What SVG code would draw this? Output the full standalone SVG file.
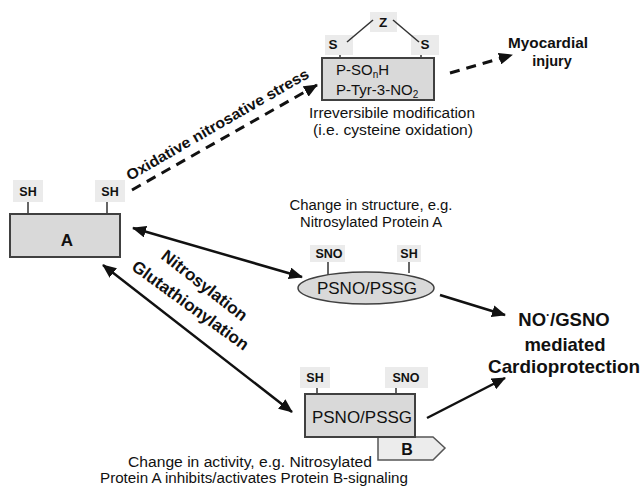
<svg xmlns="http://www.w3.org/2000/svg" width="642" height="491" viewBox="0 0 642 491">
<style>
.box{fill:#d9d9d9;stroke:#404040;stroke-width:2}
.lbl{fill:#ebebeb;stroke:none}
.stem{stroke:#333;stroke-width:1.5}
.t{font-family:"Liberation Sans",Arial,sans-serif;fill:#111}
.b{font-weight:bold}
.solid{stroke:#111;stroke-width:2.5;fill:none}
.dash{stroke:#111;stroke-width:3;fill:none;stroke-dasharray:10,7}
</style>
<defs>
<marker id="ah" markerUnits="userSpaceOnUse" markerWidth="14" markerHeight="12" refX="13" refY="6" orient="auto-start-reverse">
<path d="M0,0 L14,6 L0,12 z" fill="#111"/>
</marker>
</defs>
<rect width="642" height="491" fill="#fff"/>

<g id="nodeA">
<rect class="lbl" x="13" y="180" width="30" height="22"/>
<rect class="lbl" x="95" y="180" width="30" height="22"/>
<line class="stem" x1="28" y1="202" x2="28" y2="214"/>
<line class="stem" x1="107" y1="202" x2="107" y2="214"/>
<text class="t b" x="28" y="196" font-size="12.5" text-anchor="middle">SH</text>
<text class="t b" x="110" y="196" font-size="12.5" text-anchor="middle">SH</text>
<rect class="box" x="10" y="214" width="110" height="43"/>
<text class="t b" x="67" y="246" font-size="17" text-anchor="middle">A</text>
</g>

<g id="nodeOxidized">
<rect class="lbl" x="370" y="12" width="27" height="20"/>
<rect class="lbl" x="325" y="35" width="28" height="20"/>
<rect class="lbl" x="411" y="35" width="28" height="20"/>
<line class="stem" x1="347" y1="42" x2="373" y2="20"/>
<line class="stem" x1="393" y1="20" x2="419" y2="42"/>
<line class="stem" x1="340" y1="55" x2="340" y2="58"/>
<line class="stem" x1="421" y1="55" x2="421" y2="58"/>
<text class="t b" x="383" y="27" font-size="13.5" text-anchor="middle">Z</text>
<text class="t b" x="333" y="49" font-size="13.5" text-anchor="middle">S</text>
<text class="t b" x="425" y="49" font-size="13.5" text-anchor="middle">S</text>
<rect class="box" x="322" y="58" width="112" height="42"/>
<text class="t" x="336" y="75" font-size="15">P-SO<tspan font-size="10" dy="3">n</tspan><tspan dy="-3">H</tspan></text>
<text class="t" x="336" y="95" font-size="15">P-Tyr-3-NO<tspan font-size="10" dy="3">2</tspan></text>
<text class="t" x="392" y="118" font-size="14" text-anchor="middle" textLength="166" lengthAdjust="spacingAndGlyphs">Irreversibile modification</text>
<text class="t" x="393" y="135" font-size="14" text-anchor="middle" textLength="160" lengthAdjust="spacingAndGlyphs">(i.e. cysteine oxidation)</text>
</g>

<g id="nodeInjury">
<text class="t b" x="548" y="48" font-size="14.5" text-anchor="middle" textLength="80" lengthAdjust="spacingAndGlyphs">Myocardial</text>
<text class="t b" x="552" y="66" font-size="14.5" text-anchor="middle">injury</text>
</g>

<g id="nodeStructure">
<text class="t" x="371" y="210" font-size="14" text-anchor="middle" textLength="163" lengthAdjust="spacingAndGlyphs">Change in structure, e.g.</text>
<text class="t" x="371" y="227" font-size="14" text-anchor="middle" textLength="142" lengthAdjust="spacingAndGlyphs">Nitrosylated Protein A</text>
<rect class="lbl" x="310" y="245" width="35" height="17"/>
<rect class="lbl" x="397" y="245" width="24" height="17"/>
<line class="stem" x1="328" y1="262" x2="328" y2="275"/>
<line class="stem" x1="409" y1="262" x2="409" y2="273"/>
<text class="t b" x="329" y="258" font-size="12.5" text-anchor="middle">SNO</text>
<text class="t b" x="409" y="258" font-size="12.5" text-anchor="middle">SH</text>
<ellipse cx="366" cy="288" rx="68" ry="16" fill="#d9d9d9" stroke="#404040" stroke-width="1.5"/>
<text class="t" x="367" y="294" font-size="17" text-anchor="middle">PSNO/PSSG</text>
</g>

<g id="nodeActivity">
<rect class="lbl" x="300" y="367" width="30" height="21"/>
<rect class="lbl" x="385" y="367" width="43" height="21"/>
<line class="stem" x1="317" y1="388" x2="317" y2="394"/>
<line class="stem" x1="396" y1="388" x2="396" y2="394"/>
<text class="t b" x="315" y="382" font-size="12.5" text-anchor="middle">SH</text>
<text class="t b" x="406" y="382" font-size="12.5" text-anchor="middle">SNO</text>
<path d="M378,437 H433 L445,448 L433,460 H378 Z" fill="#ececec" stroke="#555" stroke-width="1.5"/>
<rect class="box" x="305" y="394" width="110" height="43"/>
<text class="t" x="362" y="423" font-size="17" text-anchor="middle">PSNO/PSSG</text>
<text class="t b" x="407" y="455" font-size="16" text-anchor="middle">B</text>
<text class="t" x="250" y="467" font-size="14" text-anchor="middle" textLength="244" lengthAdjust="spacingAndGlyphs">Change in activity, e.g. Nitrosylated</text>
<text class="t" x="254" y="483" font-size="14" text-anchor="middle" textLength="308" lengthAdjust="spacingAndGlyphs">Protein A inhibits/activates Protein B-signaling</text>
</g>

<g id="nodeCardio">
<text class="t b" x="564" y="326" font-size="18.5" text-anchor="middle">NO<tspan font-size="12" dy="-7">·</tspan><tspan dy="7">/GSNO</tspan></text>
<text class="t b" x="565" y="351" font-size="18.5" text-anchor="middle">mediated</text>
<text class="t b" x="564" y="373" font-size="18.5" text-anchor="middle" textLength="152" lengthAdjust="spacingAndGlyphs">Cardioprotection</text>
</g>

<g id="connectors">
<line class="dash" x1="132" y1="190" x2="317" y2="85" marker-end="url(#ah)"/>
<line class="dash" x1="450" y1="73" x2="512" y2="55" marker-end="url(#ah)"/>
<line class="solid" x1="133" y1="228" x2="302" y2="277" marker-start="url(#ah)" marker-end="url(#ah)"/>
<line class="solid" x1="103" y1="265" x2="292" y2="412" marker-start="url(#ah)" marker-end="url(#ah)"/>
<line class="solid" x1="440" y1="295" x2="505" y2="315" marker-end="url(#ah)"/>
<line class="solid" x1="427" y1="418" x2="505" y2="378" marker-end="url(#ah)"/>
<text class="t b" x="0" y="0" font-size="15" text-anchor="middle" textLength="208" lengthAdjust="spacingAndGlyphs" transform="translate(220,129) rotate(-30)">Oxidative nitrosative stress</text>
<text class="t b" x="0" y="0" font-size="17" text-anchor="middle" transform="translate(201,290) rotate(38)">Nitrosylation</text>
<text class="t b" x="0" y="0" font-size="17" text-anchor="middle" transform="translate(187,310) rotate(36)">Glutathionylation</text>
</g>
</svg>
